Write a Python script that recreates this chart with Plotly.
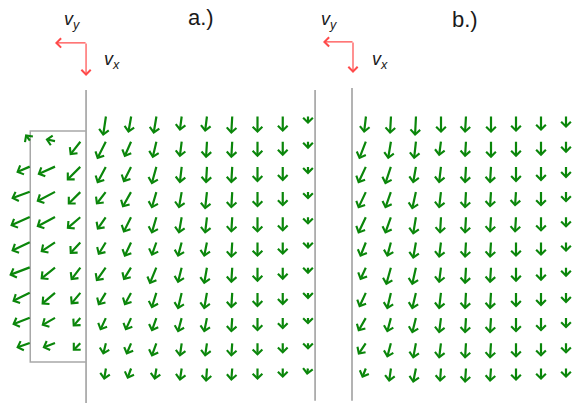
import plotly.graph_objects as go

# ---------------- data (vector components, v_x = downward, v_y = leftward) ----------------
ROWS = list(range(11))          # grid rows (downward)
COLS_MAIN = list(range(9))      # grid columns in the channel
COLS_LEFT = [-3, -2, -1]        # grid columns in the side box of panel a
ROWS_LEFT = list(range(1, 10))

VX_A = [
    [20, 17, 18, 15, 16, 18, 17, 16, 8],
    [18, 16, 17, 16, 17, 17, 16, 15, 8],
    [17, 16, 18, 17, 17, 17, 16, 15, 8],
    [13, 16, 17, 17, 18, 17, 16, 15, 8],
    [13, 16, 17, 17, 17, 16, 16, 15, 8],
    [13, 15, 14, 15, 15, 16, 15, 13, 7],
    [14, 13, 17, 16, 17, 16, 15, 13, 7],
    [13, 13, 16, 17, 17, 16, 15, 13, 7],
    [13, 13, 14, 15, 15, 15, 14, 12, 7],
    [12, 12, 14, 14, 14, 14, 13, 11, 7],
    [12, 11, 12, 13, 14, 13, 12, 10, 7],
]
VY_A = [
    [3, 3, 3, 2, 2, 1, 0, 0, 0],
    [9, 7, 4, 2, 1, 1, 0, 0, 0],
    [9, 8, 5, 2, 1, 1, 0, 0, 0],
    [10, 9, 5, 3, 2, 1, 0, 0, 0],
    [9, 8, 5, 3, 2, 1, 0, 0, 0],
    [8, 7, 5, 4, 3, 1, 0, 0, 0],
    [10, 8, 7, 4, 3, 1, 0, 0, 0],
    [8, 7, 5, 4, 3, 1, 0, 0, 0],
    [6, 6, 5, 4, 3, 1, 0, 0, 0],
    [3, 5, 5, 2, 2, 1, 0, 0, 0],
    [2, 4, 2, 2, 1, 1, 0, 0, 1],
]
VX_A_LEFT = [
    [-7, -2, 14],
    [6, 8, 14],
    [7, 10, 13],
    [9, 10, 12],
    [9, 10, 12],
    [8, 12, 13],
    [9, 12, 12],
    [7, 8, 9],
    [5, 5, 8],
]
VY_A_LEFT = [
    [5, 10, 11],
    [14, 18, 14],
    [19, 19, 13],
    [20, 19, 14],
    [19, 15, 11],
    [21, 15, 10],
    [18, 14, 10],
    [18, 14, 8],
    [14, 13, 8],
]
VX_B = [
    [17, 18, 20, 17, 17, 17, 16, 15, 12],
    [18, 18, 18, 15, 16, 17, 16, 15, 12],
    [17, 18, 17, 17, 17, 17, 16, 15, 12],
    [17, 17, 18, 17, 17, 16, 15, 15, 11],
    [17, 17, 18, 17, 17, 16, 16, 15, 11],
    [15, 15, 17, 16, 16, 16, 15, 14, 10],
    [13, 18, 18, 16, 17, 16, 15, 14, 10],
    [15, 17, 17, 17, 17, 17, 15, 14, 11],
    [14, 15, 16, 16, 16, 16, 15, 14, 11],
    [12, 15, 16, 16, 16, 16, 15, 14, 11],
    [10, 14, 15, 14, 15, 14, 13, 12, 10],
]
VY_B = [
    [2, 1, 1, 0, 1, 0, 0, 0, 0],
    [7, 3, 2, 2, 1, 0, 0, 0, 0],
    [8, 6, 3, 2, 1, 1, 0, 0, 0],
    [8, 6, 4, 2, 1, 1, 1, 0, 0],
    [8, 6, 3, 1, 1, 1, 1, 0, 0],
    [6, 4, 3, 2, 1, 1, 0, 0, 0],
    [6, 5, 4, 2, 1, 1, 0, 0, 0],
    [7, 4, 4, 2, 1, 1, 0, 0, 0],
    [8, 4, 4, 2, 1, 1, 0, 0, 0],
    [8, 4, 3, 2, 1, 1, 0, 0, 0],
    [4, 2, 3, 1, 1, 1, 0, 0, 0],
]

PANEL_LABELS = ["a.)", "b.)"]

# ---------------- geometry / styles ----------------
SCALE_X_A, SCALE_X_B, SCALE_Y = 25.25, 25.0, 25.2   # grid units -> pixels (for vector scaling)
GREEN = "#0a860a"
RED = "#ff4a4a"
WALL = "#9a9a9a"

fig = go.Figure()
fig.add_trace(go.Scatter(x=[None], y=[None], xaxis="x", yaxis="y", showlegend=False))
fig.add_trace(go.Scatter(x=[None], y=[None], xaxis="x2", yaxis="y", showlegend=False))

annotations = []


def add_field(xref, cols, rows, vx, vy, sx):
    for i, r in enumerate(rows):
        for k, c in enumerate(cols):
            dx = -vy[i][k] / sx
            dy = vx[i][k] / SCALE_Y
            annotations.append(dict(
                x=c + dx, y=r + dy, ax=c, ay=r,
                xref=xref, yref="y", axref=xref, ayref="y",
                text="", showarrow=True, arrowhead=4, arrowsize=0.85,
                arrowwidth=2.2, arrowcolor=GREEN, standoff=0, startstandoff=0,
                borderpad=0,
            ))


add_field("x", COLS_MAIN, ROWS, VX_A, VY_A, SCALE_X_A)
add_field("x", COLS_LEFT, ROWS_LEFT, VX_A_LEFT, VY_A_LEFT, SCALE_X_A)
add_field("x2", COLS_MAIN, ROWS, VX_B, VY_B, SCALE_X_B)

# walls / box
shapes = [
    dict(type="line", xref="x", yref="y", x0=-0.79, x1=-0.79, y0=-1.03, y1=11.5,
         line=dict(color=WALL, width=1.5)),
    dict(type="line", xref="x", yref="y", x0=8.28, x1=8.28, y0=-1.03, y1=11.3,
         line=dict(color=WALL, width=1.5)),
    dict(type="path", xref="x", yref="y",
         path="M -0.79 0.6 L -3.0 0.6 L -3.0 9.76 L -0.79 9.76",
         line=dict(color="#a8a8a8", width=1.5)),
    dict(type="line", xref="x2", yref="y", x0=-0.56, x1=-0.56, y0=-1.11, y1=11.3,
         line=dict(color=WALL, width=1.5)),
]

# red v_x / v_y indicators
for xref, cx, lx, cy, dy in [("x", -0.79, -2.02, -2.9, -1.59), ("x2", -0.52, -1.72, -2.94, -1.71)]:
    for hx, hy in [(lx, cy), (cx, dy)]:
        annotations.append(dict(
            x=hx, y=hy, ax=cx, ay=cy, xref=xref, yref="y", axref=xref, ayref="y",
            text="", showarrow=True, arrowhead=4, arrowsize=1.5, arrowwidth=1.2,
            arrowcolor=RED, standoff=0, startstandoff=0, borderpad=0,
        ))

TXT = dict(family="Liberation Sans, Arial, sans-serif", color="#1a1a1a")
for xp, yp, t, s in [
    (72, 20, "<i>v<sub>y</sub></i>", 18), (112, 61, "<i>v<sub>x</sub></i>", 18),
    (329, 20, "<i>v<sub>y</sub></i>", 18), (380, 61, "<i>v<sub>x</sub></i>", 18),
    (201, 18, PANEL_LABELS[0], 22), (465, 19, PANEL_LABELS[1], 22),
]:
    annotations.append(dict(x=xp / 582, y=1 - yp / 403, xref="paper", yref="paper",
                            text=t, showarrow=False, xanchor="center", yanchor="middle",
                            font=dict(size=s, **TXT)))

fig.update_layout(
    width=582, height=403, margin=dict(l=0, r=0, t=0, b=0),
    paper_bgcolor="white", plot_bgcolor="white",
    xaxis=dict(range=[-106 / SCALE_X_A, 476 / SCALE_X_A], visible=False, domain=[0, 1]),
    xaxis2=dict(range=[-366 / SCALE_X_B, 216 / SCALE_X_B], visible=False, domain=[0, 1],
                overlaying="x"),
    yaxis=dict(range=[(403 - 116) / SCALE_Y, -116 / SCALE_Y], visible=False),
    shapes=shapes, annotations=annotations, showlegend=False,
)

fig.write_html("out.html", config={"displayModeBar": False},
               post_script="document.body.style.margin='0';")
